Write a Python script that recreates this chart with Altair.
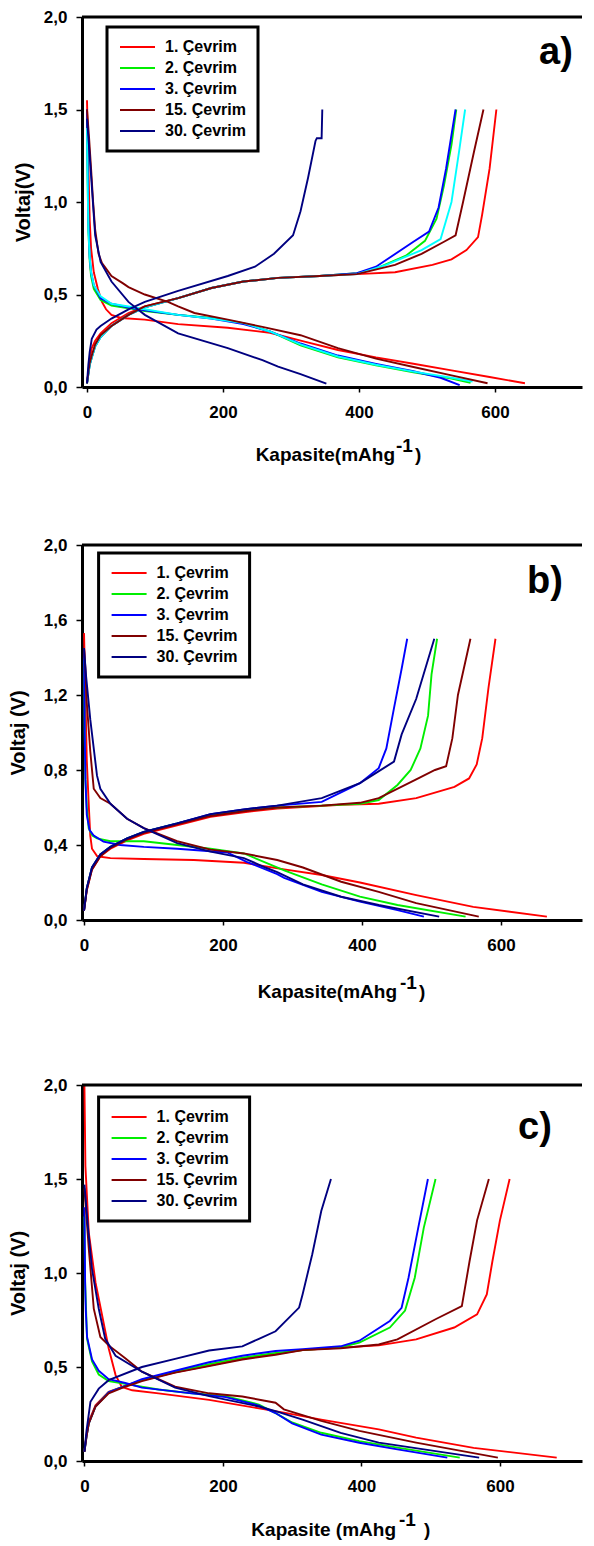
import altair as alt
import pandas as pd

FONT = "Liberation Sans"

SERIES = ["1. Çevrim", "2. Çevrim", "3. Çevrim", "15. Çevrim", "30. Çevrim", "diğer"]
COLORS = ["#ff0000", "#00ee00", "#0000ff", "#800000", "#000080", "#00ffff"]
LEGEND_SERIES = SERIES[:5]
X_TICKS = [0, 200, 400, 600]
Y_TICKS_AC = [0.0, 0.5, 1.0, 1.5, 2.0]
Y_TICKS_B = [0.0, 0.4, 0.8, 1.2, 1.6, 2.0]

# ---------------- panel a) ----------------
A1_DIS = [(0, 1.55), (2, 1.2), (4, 0.9), (6, 0.75), (10, 0.62), (16, 0.53), (22, 0.46), (28, 0.42), (36, 0.39),
          (50, 0.373), (85, 0.364), (134, 0.34), (207, 0.32), (269, 0.293), (320, 0.245), (369, 0.2), (425, 0.16),
          (480, 0.126), (536, 0.09), (592, 0.054), (644, 0.02)]
A1_CHG = [(0, 0.02), (2, 0.08), (4, 0.15), (7, 0.21), (12, 0.25), (20, 0.29), (36, 0.345), (61, 0.4), (85, 0.436),
          (134, 0.48), (183, 0.535), (230, 0.57), (281, 0.59), (342, 0.6), (397, 0.61), (453, 0.62), (508, 0.66),
          (536, 0.69), (558, 0.74), (575, 0.81), (581, 0.93), (592, 1.18), (602, 1.5)]
A2_DIS = [(0, 1.45), (1, 1.1), (2, 0.85), (4, 0.68), (6, 0.6), (10, 0.53), (20, 0.47), (36, 0.44), (61, 0.426),
          (85, 0.41), (134, 0.39), (183, 0.373), (230, 0.345), (269, 0.3), (314, 0.225), (369, 0.16), (425, 0.117),
          (480, 0.08), (536, 0.045), (564, 0.023)]
A2_CHG = [(0, 0.02), (2, 0.07), (4, 0.12), (7, 0.16), (12, 0.22), (20, 0.27), (36, 0.33), (61, 0.39), (85, 0.43),
          (134, 0.48), (183, 0.535), (230, 0.57), (281, 0.59), (342, 0.6), (397, 0.615), (425, 0.64), (469, 0.71),
          (497, 0.79), (514, 0.91), (525, 1.09), (536, 1.31), (543, 1.5)]
A3_DIS = [(0, 1.5), (1, 1.2), (2, 0.9), (4, 0.7), (6, 0.62), (10, 0.55), (20, 0.48), (36, 0.45), (61, 0.43),
          (85, 0.415), (134, 0.39), (183, 0.37), (230, 0.34), (269, 0.3), (314, 0.235), (369, 0.17), (425, 0.125),
          (480, 0.085), (520, 0.05), (548, 0.01)]
A3_CHG = [(0, 0.02), (2, 0.07), (4, 0.12), (7, 0.16), (12, 0.22), (20, 0.27), (36, 0.33), (61, 0.39), (85, 0.43),
          (134, 0.48), (183, 0.535), (230, 0.57), (281, 0.59), (342, 0.6), (397, 0.615), (425, 0.65), (480, 0.785),
          (503, 0.84), (517, 0.97), (528, 1.18), (542, 1.5)]
AX_DIS = [(0, 1.4), (1, 1.1), (2, 0.85), (4, 0.7), (6, 0.62), (10, 0.55), (20, 0.49), (36, 0.45), (61, 0.435),
          (85, 0.42), (134, 0.39), (183, 0.37), (230, 0.345), (269, 0.3), (314, 0.23), (369, 0.165), (425, 0.12),
          (480, 0.083), (536, 0.05), (567, 0.03)]
AX_CHG = [(0, 0.02), (2, 0.07), (4, 0.12), (7, 0.16), (12, 0.22), (20, 0.27), (36, 0.33), (61, 0.39), (85, 0.43),
          (134, 0.48), (183, 0.535), (230, 0.57), (281, 0.59), (342, 0.6), (397, 0.61), (440, 0.66), (492, 0.74),
          (520, 0.8), (536, 1.0), (547, 1.27), (556, 1.5)]
A15_DIS = [(0, 1.5), (3, 1.35), (6, 1.18), (9, 1.0), (12, 0.85), (17, 0.72), (22, 0.67), (28, 0.64), (36, 0.6),
           (53, 0.56), (61, 0.54), (85, 0.5), (119, 0.46), (134, 0.436), (158, 0.4), (207, 0.364), (258, 0.325),
           (314, 0.28), (369, 0.21), (425, 0.153), (480, 0.108), (536, 0.063), (589, 0.02)]
A15_CHG = [(0, 0.02), (2, 0.08), (4, 0.13), (7, 0.17), (12, 0.23), (20, 0.28), (36, 0.33), (61, 0.39), (85, 0.436),
           (134, 0.48), (183, 0.535), (230, 0.57), (281, 0.59), (342, 0.6), (397, 0.61), (453, 0.66), (492, 0.72),
           (525, 0.785), (542, 0.82), (553, 1.0), (569, 1.27), (583, 1.5)]
A30_DIS = [(0, 1.45), (3, 1.3), (7, 1.09), (12, 0.82), (20, 0.676), (36, 0.57), (61, 0.46), (85, 0.39), (134, 0.29),
           (207, 0.21), (258, 0.145), (281, 0.11), (314, 0.07), (352, 0.018)]
A30_CHG = [(0, 0.02), (2, 0.12), (4, 0.19), (7, 0.26), (14, 0.31), (20, 0.33), (36, 0.37), (61, 0.42), (85, 0.46),
           (134, 0.52), (207, 0.6), (247, 0.65), (275, 0.72), (303, 0.82), (314, 0.95), (325, 1.13), (336, 1.33),
           (338, 1.345), (345, 1.345), (346, 1.5)]

# ---------------- panel b) ----------------
B1_DIS = [(0, 1.53), (2, 1.2), (4, 0.85), (7, 0.6), (9, 0.45), (11.5, 0.38), (19, 0.34), (38, 0.33), (86, 0.325),
          (158, 0.32), (230, 0.305), (288, 0.27), (342, 0.24), (397, 0.2), (478, 0.133), (560, 0.07), (666, 0.018)]
B1_CHG = [(0, 0.05), (4, 0.16), (11.5, 0.27), (23.5, 0.34), (38, 0.38), (62, 0.425), (86, 0.46), (134, 0.505),
          (182, 0.55), (230, 0.575), (278, 0.595), (370, 0.615), (424, 0.62), (478, 0.65), (533, 0.71),
          (554, 0.755), (565, 0.83), (573, 0.97), (582, 1.24), (592, 1.5)]
B2_DIS = [(0, 1.4), (1, 1.0), (2, 0.75), (4, 0.6), (6.7, 0.49), (12, 0.45), (18.7, 0.435), (38, 0.42), (86, 0.42),
          (134, 0.4), (182, 0.38), (230, 0.355), (288, 0.265), (342, 0.19), (397, 0.125), (451, 0.08), (549, 0.018)]
B2_CHG = [(0, 0.05), (4, 0.17), (11.5, 0.28), (23.5, 0.35), (38, 0.39), (62, 0.435), (86, 0.47), (134, 0.515),
          (182, 0.56), (230, 0.585), (278, 0.6), (342, 0.61), (397, 0.62), (424, 0.64), (451, 0.72), (470, 0.8),
          (484, 0.915), (495, 1.09), (500, 1.31), (508, 1.5)]
B3_DIS = [(0, 1.45), (1, 1.0), (2, 0.75), (4, 0.56), (8, 0.48), (14, 0.45), (28, 0.418), (52, 0.4), (86, 0.39),
          (134, 0.38), (206, 0.36), (234, 0.31), (278, 0.245), (288, 0.225), (342, 0.15), (397, 0.098),
          (451, 0.053), (489, 0.018)]
B3_CHG = [(0, 0.05), (4, 0.17), (11.5, 0.28), (23.5, 0.35), (38, 0.39), (62, 0.435), (86, 0.47), (134, 0.515),
          (182, 0.565), (230, 0.59), (278, 0.61), (342, 0.63), (397, 0.73), (424, 0.81), (435, 0.915), (446, 1.13),
          (457, 1.34), (465, 1.5)]
B15_DIS = [(0, 1.45), (2, 1.34), (4, 1.16), (9, 0.9), (14, 0.7), (23.5, 0.65), (38, 0.62), (62, 0.54), (86, 0.49),
           (134, 0.42), (182, 0.375), (230, 0.355), (278, 0.32), (315, 0.28), (370, 0.204), (424, 0.15),
           (478, 0.09), (568, 0.018)]
B15_CHG = [(0, 0.05), (4, 0.16), (11.5, 0.27), (23.5, 0.34), (38, 0.385), (62, 0.43), (86, 0.465), (134, 0.51),
           (182, 0.555), (230, 0.58), (278, 0.6), (342, 0.61), (397, 0.625), (424, 0.65), (478, 0.75), (505, 0.8),
           (521, 0.82), (530, 0.97), (538, 1.2), (556, 1.5)]
B30_DIS = [(0, 1.45), (3, 1.3), (9, 1.07), (18.7, 0.77), (23.5, 0.7), (38, 0.62), (62, 0.54), (86, 0.49),
           (134, 0.41), (182, 0.365), (230, 0.33), (261, 0.28), (278, 0.255), (315, 0.19), (370, 0.124),
           (424, 0.08), (511, 0.018)]
B30_CHG = [(0, 0.05), (4, 0.17), (11.5, 0.28), (23.5, 0.35), (38, 0.39), (62, 0.435), (86, 0.47), (134, 0.515),
           (182, 0.565), (230, 0.59), (278, 0.61), (342, 0.65), (397, 0.73), (446, 0.845), (457, 0.99),
           (478, 1.18), (504, 1.5)]

# ---------------- panel c) ----------------
C1_DIS = [(0, 2.0), (1.4, 1.57), (6.3, 1.215), (16, 0.95), (25.5, 0.775), (35, 0.6), (45, 0.457), (54, 0.394),
          (69, 0.376), (107, 0.36), (180, 0.325), (252, 0.28), (288, 0.257), (342, 0.22), (425, 0.168),
          (479, 0.124), (562, 0.07), (682, 0.018)]
C1_CHG = [(0, 0.05), (3, 0.14), (6.3, 0.21), (16, 0.297), (35, 0.368), (59, 0.4), (83, 0.43), (131, 0.472),
          (180, 0.508), (228, 0.543), (276, 0.57), (315, 0.59), (370, 0.603), (425, 0.615), (479, 0.647),
          (534, 0.71), (567, 0.78), (581, 0.886), (589, 1.06), (600, 1.28), (614, 1.5)]
C2_DIS = [(0, 1.3), (1, 0.95), (2, 0.845), (3.8, 0.65), (11, 0.53), (20.7, 0.46), (35, 0.425), (59, 0.41),
          (107, 0.38), (155, 0.36), (204, 0.345), (252, 0.3), (276, 0.255), (300, 0.205), (342, 0.15),
          (397, 0.106), (452, 0.071), (542, 0.018)]
C2_CHG = [(0, 0.05), (3, 0.13), (6.3, 0.2), (16, 0.29), (35, 0.365), (59, 0.4), (83, 0.43), (131, 0.475),
          (180, 0.515), (228, 0.55), (276, 0.575), (315, 0.59), (370, 0.605), (397, 0.63), (441, 0.71), (463, 0.8),
          (477, 0.975), (490, 1.24), (507, 1.5)]
C3_DIS = [(0, 1.35), (1, 0.95), (2, 0.8), (3.8, 0.66), (11, 0.54), (20.7, 0.48), (35, 0.435), (59, 0.415),
          (83, 0.39), (155, 0.36), (204, 0.34), (252, 0.295), (276, 0.255), (300, 0.2), (342, 0.14), (397, 0.097),
          (452, 0.062), (524, 0.018)]
C3_CHG = [(0, 0.05), (3, 0.13), (6.3, 0.2), (16, 0.29), (35, 0.365), (59, 0.4), (83, 0.435), (131, 0.48),
          (180, 0.525), (228, 0.56), (276, 0.585), (315, 0.595), (370, 0.61), (397, 0.64), (441, 0.745),
          (458, 0.815), (468, 0.975), (482, 1.24), (496, 1.5)]
C15_DIS = [(0, 1.45), (6.3, 1.13), (13.5, 0.81), (23, 0.66), (35, 0.615), (59, 0.546), (83, 0.475), (131, 0.395),
           (180, 0.36), (228, 0.343), (276, 0.31), (288, 0.275), (342, 0.213), (397, 0.16), (479, 0.098),
           (597, 0.018)]
C15_CHG = [(0, 0.05), (3, 0.13), (6.3, 0.2), (16, 0.29), (35, 0.36), (59, 0.395), (83, 0.425), (131, 0.47),
           (180, 0.505), (228, 0.54), (276, 0.565), (315, 0.59), (370, 0.6), (425, 0.62), (452, 0.647),
           (507, 0.754), (545, 0.824), (556, 1.06), (567, 1.28), (584, 1.5)]
C30_DIS = [(0, 1.47), (5, 1.25), (11, 1.02), (20.7, 0.81), (30, 0.65), (45, 0.56), (83, 0.475), (131, 0.39),
           (180, 0.345), (252, 0.29), (276, 0.265), (315, 0.22), (370, 0.15), (425, 0.098), (570, 0.018)]
C30_CHG = [(0, 0.05), (3, 0.16), (8.7, 0.315), (20.7, 0.385), (35, 0.43), (83, 0.5), (131, 0.543), (180, 0.588),
           (228, 0.61), (252, 0.65), (276, 0.69), (288, 0.735), (310, 0.816), (315, 0.886), (329, 1.1),
           (342, 1.33), (356, 1.5)]

CURVES = {
    "a": [(0, A1_DIS, A1_CHG), (1, A2_DIS, A2_CHG), (2, A3_DIS, A3_CHG), (5, AX_DIS, AX_CHG),
          (3, A15_DIS, A15_CHG), (4, A30_DIS, A30_CHG)],
    "b": [(0, B1_DIS, B1_CHG), (1, B2_DIS, B2_CHG), (2, B3_DIS, B3_CHG),
          (3, B15_DIS, B15_CHG), (4, B30_DIS, B30_CHG)],
    "c": [(0, C1_DIS, C1_CHG), (1, C2_DIS, C2_CHG), (2, C3_DIS, C3_CHG),
          (3, C15_DIS, C15_CHG), (4, C30_DIS, C30_CHG)],
}


def frame(panel):
    rows = []
    for si, dis, chg in CURVES[panel]:
        for branch, pts in (("deşarj", dis), ("şarj", chg)):
            for i, (x, y) in enumerate(pts):
                rows.append({"series": SERIES[si], "branch": branch, "i": i, "x": x, "y": y})
    return pd.DataFrame(rows)


W = 500
DUMMY = alt.Data(values=[{"k": 0}])
LABEL_EXPR = "replace(format(datum.value, '.1f'), '.', ',')"


def text_mark(txt, size, align, x, y):
    return alt.Chart(DUMMY).mark_text(text=txt, font=FONT, fontSize=size, fontWeight="bold",
                                      align=align, baseline="alphabetic", color="black").encode(
        x=alt.value(x), y=alt.value(y))


def panel(key, h, xdom, yticks, ytitle, title_x, legend_xy, tag_xy, xt_main, xt_pos, xt_base):
    df = frame(key)
    lines = alt.Chart(df).mark_line(strokeWidth=1.9, clip=True).encode(
        x=alt.X("x:Q", scale=alt.Scale(domain=xdom, nice=False, zero=False),
                axis=alt.Axis(values=X_TICKS, title=None, format="d", labelFlush=False)),
        y=alt.Y("y:Q", scale=alt.Scale(domain=[0, 2], nice=False, zero=False),
                axis=alt.Axis(values=yticks, labelExpr=LABEL_EXPR, title=ytitle,
                              titleX=title_x, titleY=h / 2, titleAngle=270,
                              titleAlign="center", titleBaseline="middle")),
        color=alt.Color("series:N", scale=alt.Scale(domain=SERIES, range=COLORS),
                        legend=alt.Legend(values=LEGEND_SERIES, title=None, orient="none",
                                          legendX=legend_xy[0], legendY=legend_xy[1])),
        detail="branch:N",
        order="i:Q",
    )
    top = alt.Chart(DUMMY).mark_rule(color="black", strokeWidth=3).encode(
        x=alt.value(0), x2=alt.value(W), y=alt.value(0))
    tag = text_mark(key + ")", 38, "left", tag_xy[0], tag_xy[1])
    t_main = text_mark(xt_main, 19, "right", xt_pos[0], h + xt_base[0])
    t_sup = text_mark("-1", 19, "left", xt_pos[1], h + xt_base[1])
    t_close = text_mark(")", 19, "left", xt_pos[2], h + xt_base[0])
    return alt.layer(lines, top, tag, t_main, t_sup, t_close).properties(width=W, height=h)


pa = panel("a", 370, [-7.35, 727.9], Y_TICKS_AC, "Voltaj(V)", -59, (25, 10), (457, 47),
           "Kapasite(mAhg", (313, 314, 333), (74, 65))
pb = panel("b", 375, [-2.9, 716.5], Y_TICKS_B, "Voltaj (V)", -64, (16.6, 8), (445, 47.7),
           "Kapasite(mAhg", (315, 318, 337), (78, 69))
pc = panel("c", 376, [-3.5, 718.5], Y_TICKS_AC, "Voltaj (V)", -64, (16.6, 12), (436, 54.4),
           "Kapasite (mAhg", (314, 317, 342), (75, 65))

inner = alt.vconcat(pb, pc, spacing=165, bounds="flush").resolve_scale(
    color="independent").resolve_legend(color="independent")
chart = alt.vconcat(pa, inner, spacing=158, bounds="flush").resolve_scale(
    color="independent").resolve_legend(color="independent").properties(padding=0)

chart = chart.configure_view(stroke=None).configure_axis(
    grid=False, domainColor="black", domainWidth=3,
    tickColor="black", tickWidth=1.5,
    labelFont=FONT, labelFontSize=17, labelFontWeight="bold", labelColor="black",
    titleFont=FONT, titleFontSize=20, titleFontWeight="bold", titleColor="black",
).configure_axisX(tickSize=5, labelPadding=12).configure_axisY(tickSize=6, labelPadding=9).configure_legend(
    symbolType="stroke", symbolSize=1225, symbolStrokeWidth=2, clipHeight=16, rowPadding=5,
    labelOffset=9, padding=12, strokeColor="black", strokeWidth=3, fillColor="white",
    labelFont=FONT, labelFontSize=16, labelFontWeight="bold", labelColor="black", labelLimit=300,
)

chart.save("out.html", embed_options={"renderer": "svg", "actions": False})
